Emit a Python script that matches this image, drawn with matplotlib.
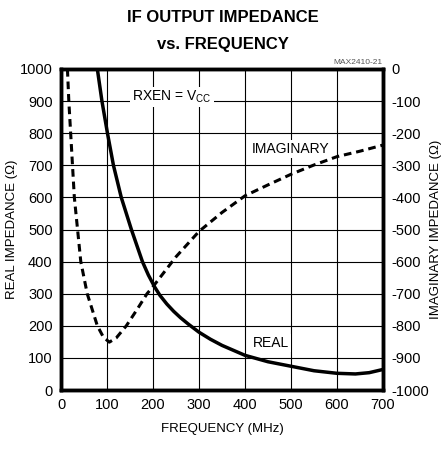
import matplotlib.pyplot as plt

plt.rcParams['font.family'] = ['Liberation Sans', 'DejaVu Sans']
plt.rcParams['axes.unicode_minus'] = False

# real part of output impedance (ohms) vs frequency (MHz)
real_freq = [79, 89, 101, 114, 131, 153, 177, 190, 204, 215, 230, 245, 260,
             277, 300, 325, 350, 400, 450, 500, 550, 600, 640, 670, 700]
real_ohm = [1000, 900, 800, 700, 600, 500, 400, 358, 320, 295, 268, 245, 225,
            205, 180, 158, 139, 108, 88, 74, 60, 52, 50, 54, 64]

# imaginary part (ohms)
imag_freq = [14, 17, 21, 25, 29, 36, 43, 57, 79, 92, 105, 120, 142, 165, 187,
             200, 250, 300, 350, 400, 450, 500, 550, 600, 650, 700]
imag_ohm = [0, -100, -200, -300, -400, -500, -600, -700, -800, -835, -851,
            -838, -800, -750, -700, -678, -585, -506, -447, -395, -361, -328,
            -299, -273, -256, -237]

x_ticks = [0, 100, 200, 300, 400, 500, 600, 700]
left_ticks = [0, 100, 200, 300, 400, 500, 600, 700, 800, 900, 1000]
right_ticks = [-1000, -900, -800, -700, -600, -500, -400, -300, -200, -100, 0]

fig = plt.figure(figsize=(4.45, 4.5), dpi=100)
ax = fig.add_axes([61 / 445, 60 / 450, 322 / 445, 321 / 450])
ax2 = ax.twinx()

ax.set_xlim(0, 700)
ax.set_ylim(0, 1000)
ax2.set_ylim(-1000, 0)
ax.set_xticks(x_ticks)
ax.set_yticks(left_ticks)
ax2.set_yticks(right_ticks)
ax.grid(True, color='black', lw=0.8)
ax.tick_params(length=0, labelsize=10.5, pad=6)
ax2.tick_params(length=0, labelsize=10.5, pad=6)
for a in (ax, ax2):
    for s in a.spines.values():
        s.set_linewidth(2.5)

ax.plot(real_freq, real_ohm, color='black', lw=2.5, zorder=5)
ax2.plot(imag_freq, imag_ohm, color='black', lw=2.2, ls=(0, (2.5, 1.6)), zorder=5)

box = dict(facecolor='white', edgecolor='none', pad=1.5)
ax.text(241, 913, 'RXEN = V$_{\\mathregular{CC}}$', ha='center', va='center',
        fontsize=10, bbox=box, zorder=4)
ax.text(498, 752, 'IMAGINARY', ha='center', va='center', fontsize=10, bbox=box, zorder=4)
ax.text(456, 146, 'REAL', ha='center', va='center', fontsize=10, bbox=box, zorder=4)

ax.set_xlabel('FREQUENCY (MHz)', fontsize=9.5, labelpad=8)
ax.set_ylabel('REAL IMPEDANCE (\u03a9)', fontsize=9.5, labelpad=1)
ax2.set_ylabel('IMAGINARY IMPEDANCE (\u03a9)', fontsize=9.5, labelpad=1)

fig.text(0.5, 0.962, 'IF OUTPUT IMPEDANCE', ha='center', va='center',
         fontsize=12, fontweight='bold')
fig.text(0.5, 0.9, 'vs. FREQUENCY', ha='center', va='center',
         fontsize=12, fontweight='bold')
fig.text(383 / 445, 0.86, 'MAX2410-21', ha='right', va='center',
         fontsize=6, color='#555555')

fig.savefig('out.png', dpi=100)
